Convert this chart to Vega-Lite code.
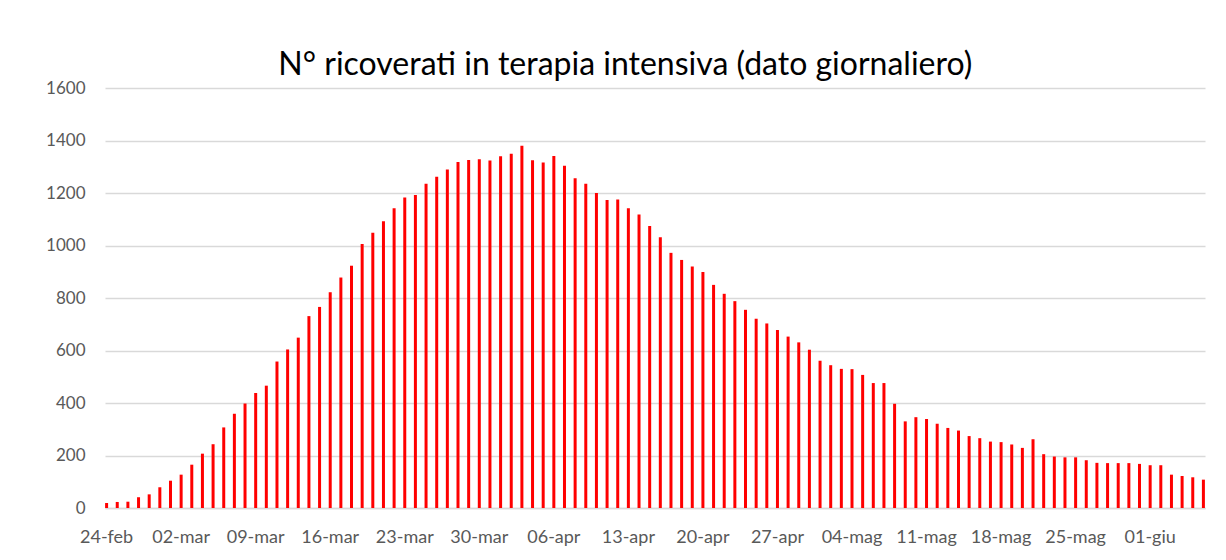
{
  "$schema": "https://vega.github.io/schema/vega-lite/v6.json",
  "width": 1100,
  "height": 420,
  "autosize": {"type": "none"},
  "padding": {"left": 105, "top": 88, "right": 21, "bottom": 52},
  "background": "white",
  "title": {
    "text": "N° ricoverati in terapia intensiva (dato giornaliero)",
    "font": "Lato",
    "fontSize": 32,
    "fontWeight": "normal",
    "color": "#000000",
    "anchor": "middle",
    "frame": "bounds",
    "offset": -3
  },
  "data": {
    "values": [
      {"giorno": "24-feb", "ricoverati": 19},
      {"giorno": "25-feb", "ricoverati": 23},
      {"giorno": "26-feb", "ricoverati": 24},
      {"giorno": "27-feb", "ricoverati": 41},
      {"giorno": "28-feb", "ricoverati": 52},
      {"giorno": "29-feb", "ricoverati": 79},
      {"giorno": "01-mar", "ricoverati": 104},
      {"giorno": "02-mar", "ricoverati": 127},
      {"giorno": "03-mar", "ricoverati": 165},
      {"giorno": "04-mar", "ricoverati": 207},
      {"giorno": "05-mar", "ricoverati": 243},
      {"giorno": "06-mar", "ricoverati": 307},
      {"giorno": "07-mar", "ricoverati": 359},
      {"giorno": "08-mar", "ricoverati": 398},
      {"giorno": "09-mar", "ricoverati": 438},
      {"giorno": "10-mar", "ricoverati": 466},
      {"giorno": "11-mar", "ricoverati": 558},
      {"giorno": "12-mar", "ricoverati": 604},
      {"giorno": "13-mar", "ricoverati": 649},
      {"giorno": "14-mar", "ricoverati": 731},
      {"giorno": "15-mar", "ricoverati": 766},
      {"giorno": "16-mar", "ricoverati": 822},
      {"giorno": "17-mar", "ricoverati": 878},
      {"giorno": "18-mar", "ricoverati": 923},
      {"giorno": "19-mar", "ricoverati": 1006},
      {"giorno": "20-mar", "ricoverati": 1049},
      {"giorno": "21-mar", "ricoverati": 1092},
      {"giorno": "22-mar", "ricoverati": 1142},
      {"giorno": "23-mar", "ricoverati": 1183},
      {"giorno": "24-mar", "ricoverati": 1192},
      {"giorno": "25-mar", "ricoverati": 1235},
      {"giorno": "26-mar", "ricoverati": 1262},
      {"giorno": "27-mar", "ricoverati": 1290},
      {"giorno": "28-mar", "ricoverati": 1318},
      {"giorno": "29-mar", "ricoverati": 1326},
      {"giorno": "30-mar", "ricoverati": 1329},
      {"giorno": "31-mar", "ricoverati": 1324},
      {"giorno": "01-apr", "ricoverati": 1340},
      {"giorno": "02-apr", "ricoverati": 1350},
      {"giorno": "03-apr", "ricoverati": 1380},
      {"giorno": "04-apr", "ricoverati": 1325},
      {"giorno": "05-apr", "ricoverati": 1316},
      {"giorno": "06-apr", "ricoverati": 1341},
      {"giorno": "07-apr", "ricoverati": 1304},
      {"giorno": "08-apr", "ricoverati": 1256},
      {"giorno": "09-apr", "ricoverati": 1235},
      {"giorno": "10-apr", "ricoverati": 1200},
      {"giorno": "11-apr", "ricoverati": 1173},
      {"giorno": "12-apr", "ricoverati": 1175},
      {"giorno": "13-apr", "ricoverati": 1142},
      {"giorno": "14-apr", "ricoverati": 1118},
      {"giorno": "15-apr", "ricoverati": 1074},
      {"giorno": "16-apr", "ricoverati": 1031},
      {"giorno": "17-apr", "ricoverati": 972},
      {"giorno": "18-apr", "ricoverati": 945},
      {"giorno": "19-apr", "ricoverati": 920},
      {"giorno": "20-apr", "ricoverati": 899},
      {"giorno": "21-apr", "ricoverati": 850},
      {"giorno": "22-apr", "ricoverati": 816},
      {"giorno": "23-apr", "ricoverati": 788},
      {"giorno": "24-apr", "ricoverati": 755},
      {"giorno": "25-apr", "ricoverati": 721},
      {"giorno": "26-apr", "ricoverati": 703},
      {"giorno": "27-apr", "ricoverati": 678},
      {"giorno": "28-apr", "ricoverati": 653},
      {"giorno": "29-apr", "ricoverati": 631},
      {"giorno": "30-apr", "ricoverati": 603},
      {"giorno": "01-mag", "ricoverati": 561},
      {"giorno": "02-mag", "ricoverati": 544},
      {"giorno": "03-mag", "ricoverati": 530},
      {"giorno": "04-mag", "ricoverati": 529},
      {"giorno": "05-mag", "ricoverati": 507},
      {"giorno": "06-mag", "ricoverati": 476},
      {"giorno": "07-mag", "ricoverati": 476},
      {"giorno": "08-mag", "ricoverati": 397},
      {"giorno": "09-mag", "ricoverati": 330},
      {"giorno": "10-mag", "ricoverati": 346},
      {"giorno": "11-mag", "ricoverati": 339},
      {"giorno": "12-mag", "ricoverati": 321},
      {"giorno": "13-mag", "ricoverati": 305},
      {"giorno": "14-mag", "ricoverati": 295},
      {"giorno": "15-mag", "ricoverati": 274},
      {"giorno": "16-mag", "ricoverati": 266},
      {"giorno": "17-mag", "ricoverati": 253},
      {"giorno": "18-mag", "ricoverati": 251},
      {"giorno": "19-mag", "ricoverati": 242},
      {"giorno": "20-mag", "ricoverati": 229},
      {"giorno": "21-mag", "ricoverati": 262},
      {"giorno": "22-mag", "ricoverati": 205},
      {"giorno": "23-mag", "ricoverati": 196},
      {"giorno": "24-mag", "ricoverati": 193},
      {"giorno": "25-mag", "ricoverati": 193},
      {"giorno": "26-mag", "ricoverati": 182},
      {"giorno": "27-mag", "ricoverati": 172},
      {"giorno": "28-mag", "ricoverati": 171},
      {"giorno": "29-mag", "ricoverati": 171},
      {"giorno": "30-mag", "ricoverati": 171},
      {"giorno": "31-mag", "ricoverati": 168},
      {"giorno": "01-giu", "ricoverati": 163},
      {"giorno": "02-giu", "ricoverati": 163},
      {"giorno": "03-giu", "ricoverati": 127},
      {"giorno": "04-giu", "ricoverati": 122},
      {"giorno": "05-giu", "ricoverati": 117},
      {"giorno": "06-giu", "ricoverati": 108}
    ]
  },
  "mark": {"type": "bar", "color": "#ff0000", "size": 3},
  "encoding": {
    "x": {
      "field": "giorno",
      "type": "ordinal",
      "sort": null,
      "title": null,
      "scale": {"paddingInner": 0.7, "paddingOuter": 0},
      "axis": {
        "values": ["24-feb", "02-mar", "09-mar", "16-mar", "23-mar", "30-mar", "06-apr", "13-apr", "20-apr", "27-apr", "04-mag", "11-mag", "18-mag", "25-mag", "01-giu"],
        "labelAngle": 0,
        "labelFont": "Lato",
        "labelFontSize": 18,
        "labelColor": "#595959",
        "labelPadding": 20,
        "ticks": false,
        "domainColor": "#d9d9d9",
        "domainWidth": 1.5,
        "grid": false
      }
    },
    "y": {
      "field": "ricoverati",
      "type": "quantitative",
      "title": null,
      "scale": {"domain": [0, 1600], "nice": false},
      "axis": {
        "values": [0, 200, 400, 600, 800, 1000, 1200, 1400, 1600],
        "format": "d",
        "labelFont": "Lato",
        "labelFontSize": 17,
        "labelColor": "#595959",
        "labelPadding": 20,
        "ticks": false,
        "domain": false,
        "gridColor": "#d9d9d9",
        "gridWidth": 1.5
      }
    }
  },
  "config": {
    "view": {"stroke": null}
  }
}
